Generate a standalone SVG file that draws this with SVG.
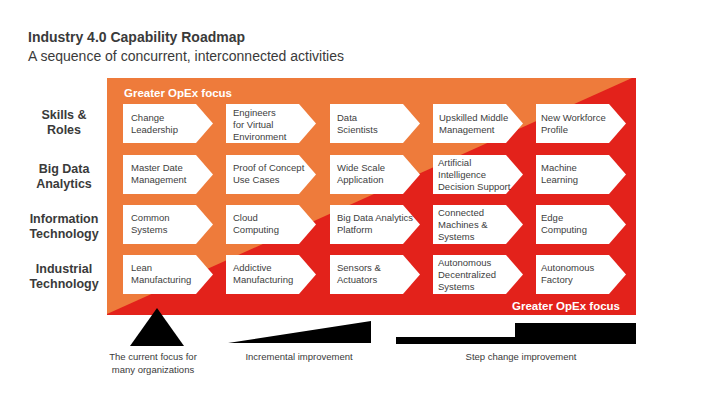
<svg xmlns="http://www.w3.org/2000/svg" width="727" height="406" viewBox="0 0 727 406">
<defs>
<style>
text{font-family:"Liberation Sans",Arial,sans-serif;fill:#3a3a3a}
.title{font-size:14px;font-weight:bold}
.sub{font-size:14px}
.row{font-size:12.5px;font-weight:bold;text-anchor:middle}
.focus{font-size:11.5px;font-weight:bold;fill:#fff}
.bx{font-size:9.5px;fill:#404040}
.lab{font-size:9.5px;text-anchor:middle}
.box{fill:#fff}
</style>
<polygon id="arr" points="0,0 73,0 90,19.5 73,39 0,39"/>
</defs>
<rect width="727" height="406" fill="#fff"/>
<text class="title" x="28" y="42">Industry 4.0 Capability Roadmap</text>
<text class="sub" x="28" y="61">A sequence of concurrent, interconnected activities</text>

<g id="background">
<rect x="107" y="78" width="529" height="237" fill="#E3221B"/>
<polygon points="107,78 632,78 107,314" fill="#EE7B3B"/>
<text class="focus" x="124" y="97">Greater OpEx focus</text>
<text class="focus" x="620" y="310" text-anchor="end">Greater OpEx focus</text>
</g>

<g id="row-labels">
<text class="row" x="64" y="119">Skills &amp;</text>
<text class="row" x="64" y="134">Roles</text>
<text class="row" x="64" y="173">Big Data</text>
<text class="row" x="64" y="188">Analytics</text>
<text class="row" x="64" y="223">Information</text>
<text class="row" x="64" y="238">Technology</text>
<text class="row" x="64" y="273">Industrial</text>
<text class="row" x="64" y="288">Technology</text>
</g>

<g id="n-change-leadership"><use href="#arr" x="123" y="104" class="box"/><text class="bx" x="131" y="120.5">Change</text><text class="bx" x="131" y="132.5">Leadership</text></g>
<g id="n-engineers"><use href="#arr" x="226" y="104" class="box"/><text class="bx" x="233" y="115.5">Engineers</text><text class="bx" x="233" y="127.5">for Virtual</text><text class="bx" x="233" y="139.5">Environment</text></g>
<g id="n-data-scientists"><use href="#arr" x="330" y="104" class="box"/><text class="bx" x="337" y="120.5">Data</text><text class="bx" x="337" y="132.5">Scientists</text></g>
<g id="n-upskilled"><use href="#arr" x="433" y="104" class="box"/><text class="bx" x="439" y="120.5">Upskilled Middle</text><text class="bx" x="439" y="132.5">Management</text></g>
<g id="n-workforce"><use href="#arr" x="536" y="104" class="box"/><text class="bx" x="541" y="120.5">New Workforce</text><text class="bx" x="541" y="132.5">Profile</text></g>

<g id="n-master-date"><use href="#arr" x="123" y="155" class="box"/><text class="bx" x="131" y="171">Master Date</text><text class="bx" x="131" y="183">Management</text></g>
<g id="n-proof"><use href="#arr" x="226" y="155" class="box"/><text class="bx" x="233" y="171">Proof of Concept</text><text class="bx" x="233" y="183">Use Cases</text></g>
<g id="n-wide-scale"><use href="#arr" x="330" y="155" class="box"/><text class="bx" x="337" y="171">Wide Scale</text><text class="bx" x="337" y="183">Application</text></g>
<g id="n-ai"><use href="#arr" x="433" y="155" class="box"/><text class="bx" x="438" y="166">Artificial</text><text class="bx" x="438" y="178">Intelligence</text><text class="bx" x="438" y="190">Decision Support</text></g>
<g id="n-ml"><use href="#arr" x="536" y="155" class="box"/><text class="bx" x="541" y="171">Machine</text><text class="bx" x="541" y="183">Learning</text></g>

<g id="n-common"><use href="#arr" x="123" y="205" class="box"/><text class="bx" x="131" y="221">Common</text><text class="bx" x="131" y="233">Systems</text></g>
<g id="n-cloud"><use href="#arr" x="226" y="205" class="box"/><text class="bx" x="233" y="221">Cloud</text><text class="bx" x="233" y="233">Computing</text></g>
<g id="n-bigdata"><use href="#arr" x="330" y="205" class="box"/><text class="bx" x="337" y="221" textLength="76" lengthAdjust="spacingAndGlyphs">Big Data Analytics</text><text class="bx" x="337" y="233">Platform</text></g>
<g id="n-connected"><use href="#arr" x="433" y="205" class="box"/><text class="bx" x="438" y="216">Connected</text><text class="bx" x="438" y="228">Machines &amp;</text><text class="bx" x="438" y="240">Systems</text></g>
<g id="n-edge"><use href="#arr" x="536" y="205" class="box"/><text class="bx" x="541" y="221">Edge</text><text class="bx" x="541" y="233">Computing</text></g>

<g id="n-lean"><use href="#arr" x="123" y="255" class="box"/><text class="bx" x="131" y="271">Lean</text><text class="bx" x="131" y="283">Manufacturing</text></g>
<g id="n-addictive"><use href="#arr" x="226" y="255" class="box"/><text class="bx" x="233" y="271">Addictive</text><text class="bx" x="233" y="283">Manufacturing</text></g>
<g id="n-sensors"><use href="#arr" x="330" y="255" class="box"/><text class="bx" x="337" y="271">Sensors &amp;</text><text class="bx" x="337" y="283">Actuators</text></g>
<g id="n-adecentral"><use href="#arr" x="433" y="255" class="box"/><text class="bx" x="438" y="266">Autonomous</text><text class="bx" x="438" y="278">Decentralized</text><text class="bx" x="438" y="290">Systems</text></g>
<g id="n-afactory"><use href="#arr" x="536" y="255" class="box"/><text class="bx" x="541" y="271">Autonomous</text><text class="bx" x="541" y="283">Factory</text></g>

<g id="legend">
<polygon points="157,308 184,346 130,346" fill="#000"/>
<polygon points="228,343 371,321 371,343" fill="#000"/>
<polygon points="396,337 515,337 515,323 636,323 636,344 396,344" fill="#000"/>
<text class="lab" x="153" y="360">The current focus for</text>
<text class="lab" x="153" y="373">many organizations</text>
<text class="lab" x="299" y="360">Incremental improvement</text>
<text class="lab" x="521" y="360">Step change improvement</text>
</g>
</svg>
